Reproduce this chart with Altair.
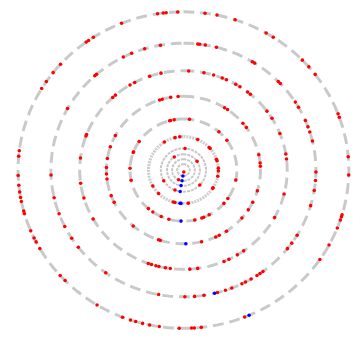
import altair as alt
import pandas as pd

# ring radii (data units), ring 1 = outermost
ring_radius = [161, 129, 101, 75, 52, 34, 22, 16, 11, 6, 2]

red_ring_1 = [354, 351, 353, 338, 325, 327, 324, 308, 312, 304, 301, 277, 275, 358, 7.5, 11.7, 18.2, 30, 32.9,
              46, 49.3, 52.8, 69.2, 70.5, 85.2, 268, 264.5, 262, 260, 258.5, 255, 254, 247.4, 244.6, 243, 240.3,
              228.2, 225.7, 211.5, 201.6, 198.7, 196.8, 194.3, 191.8, 188.4, 106.4, 107.2, 108.4, 111.5, 91.8,
              118.3, 124.4, 158.3, 181.5, 177.2, 176.2, 173.8]
red_ring_2 = [299, 333, 337, 343, 350, 318, 319, 6.2, 7, 9.5, 14.4, 31.3, 32.5, 45.7, 47, 57.6, 60.3, 67, 70,
              72.5, 76.8, 267.8, 257.4, 249.8, 243.6, 237.5, 232.5, 215.9, 190.8, 106.3, 99.3, 94.7, 90.9, 120.9,
              125.2, 128.3, 143.1, 144.7, 146.3, 153.8, 149.3, 152.1, 158.6, 161.5, 165.1, 171.1, 175.2, 179.4]
red_ring_3 = [329, 332, 341, 347.5, 319, 317, 291, 290, 277, 2.9, 16.9, 11.4, 22, 24.5, 30.3, 33, 38.2, 40.2,
              53.6, 58.6, 68.4, 80.7, 83.6, 199.8, 197.9, 195.4, 193.7, 190, 187.3, 262.4, 253.6, 240.5, 144.5,
              118.5, 104, 157, 154, 148.7, 176.5, 172.1]
red_ring_4 = [350.5, 342, 344, 298, 288.5, 279, 272, 32.3, 34.9, 50.5, 54.8, 78.1, 84.5, 87, 356, 267, 263,
              249.7, 244, 220.7, 198.9, 197.5, 106.4, 115.9, 122.7, 130.6, 146, 155.2, 152.3, 166.4]
red_ring_5 = [346, 345, 350, 304, 291, 290, 272, 6.5, 41.6, 54.4, 258.4, 221, 214.9, 204.6, 195.9, 101.3,
              130.7, 123.9, 159.9, 167.8, 157.7, 151.2]
red_ring_6 = [327, 346, 354, 24, 47.5, 50, 71, 74, 86.7, 241.3, 225.4, 196.9, 194, 91.6, 100.8, 123.2, 122, 172]
red_ring_7 = [4, 202, 133.7, 240.6]
red_ring_8 = [56, 326]
red_ring_9 = [205.5]
red_ring_11 = [170]

blue_ring = [10, 9, 8, 7, 6, 6, 5, 4, 2, 1]
blue_angle = [185, 187, 188.5, 188.4, 185.5, 184, 182.6, 178.2, 166.4, 156.6]

red_groups = {1: red_ring_1, 2: red_ring_2, 3: red_ring_3, 4: red_ring_4, 5: red_ring_5,
              6: red_ring_6, 7: red_ring_7, 8: red_ring_8, 9: red_ring_9, 11: red_ring_11}
red_rows = [{"r": ring_radius[k - 1], "a": a} for k, lst in red_groups.items() for a in lst]
red_df = pd.DataFrame(red_rows)
blue_df = pd.DataFrame({"r": [ring_radius[k - 1] for k in blue_ring], "a": blue_angle})

rings_outer = pd.DataFrame({"ring": list(range(1, 6)), "r": ring_radius[0:5]})
rings_mid = pd.DataFrame({"ring": [6], "r": [ring_radius[5]]})
rings_inner = pd.DataFrame({"ring": list(range(7, 11)), "r": ring_radius[6:10]})

xs = alt.Scale(domain=[-170.8, 164.1], nice=False, zero=False)
ys = alt.Scale(domain=[-168, 162], nice=False, zero=False)

polar = dict(x="datum.r*sin(datum.a*PI/180)", y="datum.r*cos(datum.a*PI/180)")


def ring_layer(df, **mark):
    return (alt.Chart(df)
            .transform_calculate(a="sequence(0, 362, 2)")
            .transform_flatten(["a"])
            .transform_calculate(**polar)
            .mark_line(**mark)
            .encode(x=alt.X("x:Q", scale=xs, axis=None),
                    y=alt.Y("y:Q", scale=ys, axis=None),
                    detail="ring:N", order="a:Q"))


outer = ring_layer(rings_outer, color="#c9c9c9", strokeWidth=3, strokeDash=[11, 6])
mid = ring_layer(rings_mid, color="#cdcdcd", strokeWidth=3.2, strokeDash=[2, 1])
inner = ring_layer(rings_inner, color="#c6c6c6", strokeWidth=2, strokeDash=[3, 1])


def dots(df, color):
    return (alt.Chart(df)
            .transform_calculate(**polar)
            .mark_circle(size=13, opacity=1, color=color)
            .encode(x=alt.X("x:Q", scale=xs, axis=None),
                    y=alt.Y("y:Q", scale=ys, axis=None)))


chart = (alt.layer(outer, mid, inner, dots(red_df, "#ff0000"), dots(blue_df, "#0000ff"))
         .properties(width=350, height=330, padding=0, autosize="none")
         .configure_view(stroke=None))

chart.save("out.html", embed_options={"renderer": "svg", "actions": False})
